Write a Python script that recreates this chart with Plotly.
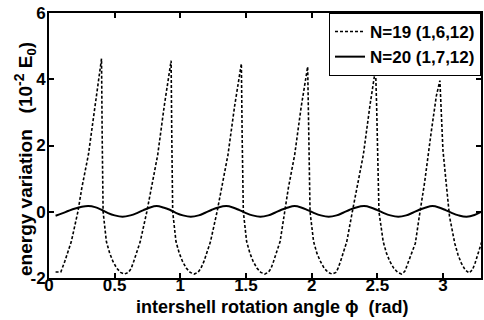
import plotly.graph_objects as go

# N=19 (1,6,12) dashed curve, read segment by segment
x19 = ([0.05, 0.09, 0.12, 0.145, 0.17, 0.22, 0.25, 0.30, 0.35, 0.40]
       + [0.405, 0.412, 0.437, 0.462, 0.487, 0.515, 0.545, 0.575, 0.605, 0.625, 0.645, 0.67, 0.695, 0.745, 0.778, 0.828, 0.879, 0.93]
       + [0.935, 0.942, 0.967, 0.992, 1.017, 1.045, 1.075, 1.105, 1.135, 1.155, 1.18, 1.205, 1.23, 1.28, 1.313, 1.363, 1.414, 1.465]
       + [1.471, 1.48, 1.505, 1.53, 1.555, 1.583, 1.613, 1.643, 1.67, 1.69, 1.71, 1.735, 1.76, 1.795, 1.823, 1.871, 1.92, 1.97]
       + [1.977, 1.988, 2.015, 2.04, 2.067, 2.095, 2.125, 2.155, 2.185, 2.2, 2.22, 2.244, 2.268, 2.31, 2.343, 2.394, 2.445, 2.487]
       + [2.495, 2.502, 2.513, 2.545, 2.57, 2.596, 2.625, 2.655, 2.685, 2.71, 2.73, 2.76, 2.79, 2.82, 2.86, 2.91, 2.95, 2.977]
       + [3.0, 3.03, 3.05, 3.09, 3.115, 3.14, 3.17, 3.20, 3.225, 3.245, 3.27, 3.30])
y19 = ([-1.82, -1.82, -1.50, -1.20, -0.90, 0.00, 0.72, 1.72, 3.23, 4.62]
       + [2.30, 0.00, -0.90, -1.25, -1.50, -1.70, -1.83, -1.88, -1.83, -1.72, -1.50, -1.22, -0.90, 0.00, 0.72, 1.72, 3.23, 4.56]
       + [2.30, 0.00, -0.90, -1.25, -1.50, -1.70, -1.83, -1.88, -1.83, -1.72, -1.50, -1.22, -0.90, 0.00, 0.72, 1.72, 3.20, 4.47]
       + [2.30, 0.00, -0.90, -1.25, -1.50, -1.70, -1.83, -1.88, -1.83, -1.72, -1.50, -1.22, -0.90, 0.00, 0.72, 1.72, 3.15, 4.38]
       + [2.30, 0.00, -0.90, -1.25, -1.50, -1.70, -1.83, -1.88, -1.83, -1.72, -1.50, -1.22, -0.90, 0.00, 0.72, 1.72, 3.23, 4.32]
       + [3.23, 1.72, 0.00, -0.90, -1.25, -1.50, -1.70, -1.83, -1.88, -1.80, -1.60, -1.25, -0.95, -0.14, 0.87, 2.38, 3.50, 3.96]
       + [1.87, 0.66, -0.14, -0.95, -1.30, -1.55, -1.76, -1.85, -1.75, -1.55, -1.22, -0.85])

# N=20 (1,7,12) solid curve
x20 = [0.05, 0.10, 0.15, 0.20, 0.25, 0.30, 0.35, 0.40, 0.45, 0.50, 0.56, 0.62, 0.67, 0.72, 0.77, 0.82,
       0.87, 0.92, 0.97, 1.02, 1.08, 1.14, 1.19, 1.24, 1.29, 1.35, 1.40, 1.45, 1.50, 1.55, 1.61, 1.67,
       1.72, 1.77, 1.82, 1.87, 1.92, 1.97, 2.02, 2.07, 2.13, 2.19, 2.24, 2.29, 2.34, 2.40, 2.45, 2.50,
       2.55, 2.60, 2.66, 2.72, 2.77, 2.82, 2.87, 2.92, 2.97, 3.02, 3.07, 3.12, 3.18, 3.24, 3.30]
y20 = [-0.12, -0.05, 0.03, 0.10, 0.15, 0.17, 0.14, 0.06, -0.04, -0.11, -0.15, -0.11, -0.04, 0.05, 0.13, 0.17,
       0.13, 0.06, -0.04, -0.11, -0.15, -0.11, -0.03, 0.06, 0.13, 0.17, 0.13, 0.05, -0.04, -0.11, -0.15, -0.11,
       -0.03, 0.06, 0.13, 0.17, 0.13, 0.05, -0.04, -0.11, -0.15, -0.11, -0.03, 0.06, 0.13, 0.17, 0.13, 0.05,
       -0.04, -0.11, -0.15, -0.11, -0.03, 0.06, 0.13, 0.17, 0.13, 0.05, -0.04, -0.11, -0.15, -0.10, 0.02]

xticks = [0, 0.5, 1, 1.5, 2, 2.5, 3]
yticks = [-2, 0, 2, 4, 6]
xtitle = "intershell rotation angle ϕ\u00a0\u00a0(rad)"
ytitle = ("energy variation\u00a0\u00a0\u00a0(10<sup><span style='font-size:14px'>-2</span></sup>"
          "\u00a0E<sub><span style='font-size:13px'>0</span></sub>)")

FONT = "Liberation Sans"

fig = go.Figure()
fig.add_trace(go.Scatter(x=x19, y=y19, mode="lines", name="N=19 (1,6,12)",
                         line=dict(color="black", width=1.6, dash="3px,2px")))
fig.add_trace(go.Scatter(x=x20, y=y20, mode="lines", name="N=20 (1,7,12)",
                         line=dict(color="black", width=2, shape="spline")))

axis_common = dict(showline=True, linecolor="black", linewidth=2, mirror="ticks",
                   ticks="inside", ticklen=5, tickwidth=1.5, tickcolor="black",
                   showgrid=False, zeroline=False,
                   tickfont=dict(family=FONT, size=17, color="black", weight="bold"))

fig.update_xaxes(range=[0, 3.29], tickvals=xticks, ticktext=[str(v) for v in xticks],
                 ticklabelstandoff=-9, **axis_common)
fig.update_yaxes(range=[-2, 6], tickvals=yticks, ticktext=[str(v) for v in yticks],
                 ticklabelstandoff=-2, **axis_common)

fig.add_annotation(text=xtitle, xref="paper", yref="paper", x=0.518, y=-0.108,
                   xanchor="center", yanchor="middle", showarrow=False,
                   font=dict(family=FONT, size=18, color="black", weight="bold"))
fig.add_annotation(text=ytitle, xref="paper", yref="paper", x=-0.055, y=0.45,
                   xanchor="center", yanchor="middle", showarrow=False, textangle=-90,
                   font=dict(family=FONT, size=19, color="black", weight="bold"))

fig.update_layout(
    width=484, height=320,
    margin=dict(l=49, r=1, t=13, b=42),
    plot_bgcolor="white", paper_bgcolor="white",
    showlegend=True,
    legend=dict(x=1, y=1, xanchor="right", yanchor="top",
                bgcolor="white", bordercolor="black", borderwidth=1,
                font=dict(family=FONT, size=17, color="black", weight="bold"),
                tracegroupgap=0, itemwidth=30),
)

fig.write_html("out.html")
